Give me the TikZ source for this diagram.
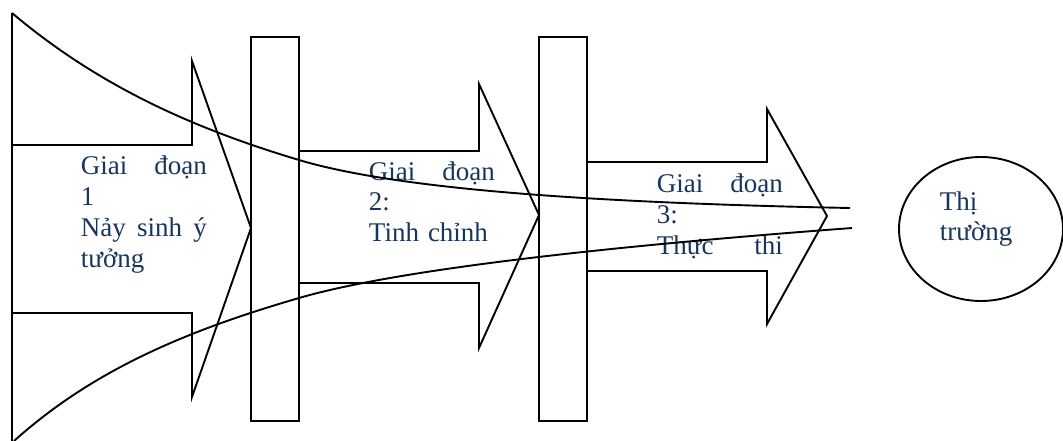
\documentclass[tikz,border=0pt]{standalone}
\usepackage{fontspec}
\setmainfont{Liberation Serif}
\usetikzlibrary{shapes.geometric}
\definecolor{chuxanh}{RGB}{23,54,93}

\begin{document}
\begin{tikzpicture}[x=1pt, y=-1pt, line width=1.9pt,
  chu/.style={text=chuxanh, font=\fontsize{27}{30.7}\selectfont, inner sep=0pt,
    anchor=base west, text width=\rong, align=left}]

  \def\rong{126pt}   % bề rộng khung chữ
  \def\yT{37}        % đỉnh hai thanh chắn
  \def\yB{421}       % đáy hai thanh chắn

  \useasboundingbox (0,0) rectangle (1063,441);

  % Chữ các giai đoạn
  \node[chu] (gd1) at (80,175)
    {\makebox[\rong][s]{Giai\hfill đoạn}\\1\\\makebox[\rong][s]{Nảy\hfill sinh\hfill ý}\\tưởng};
  \node[chu] (gd2) at (368,180)
    {\makebox[\rong][s]{Giai\hfill đoạn}\\2:\\Tinh chỉnh};
  \node[chu] (gd3) at (656,193)
    {\makebox[\rong][s]{Giai\hfill đoạn}\\3:\\\makebox[\rong][s]{Thực\hfill thi}};

  % Phễu
  \draw (12,441) -- (12,13);
  \draw (12,13) .. controls (102,89) and (199,130) .. (299,160)
    .. controls (399,190) and (600,203) .. (850,208);
  \draw (14,441) .. controls (94,369) and (189,330) .. (299,298)
    .. controls (409,266) and (652,243) .. (852,228);

  % Mũi tên 1
  \draw (12,145) -- (192,145) -- (192,61) -- (251,228) -- (192,397)
    -- (192,313) -- (12,313);

  % Mũi tên 2
  \draw (299,151) -- (479,151) -- (479,84) -- (539,215) -- (479,348)
    -- (479,283) -- (299,283);

  % Mũi tên 3
  \draw (587,162) -- (767,162) -- (767,109) -- (827,216) -- (767,324)
    -- (767,271) -- (587,271);

  % Thanh chắn
  \draw (251,\yT) rectangle (299,\yB);
  \draw (539,\yT) rectangle (587,\yB);

  % Thị trường
  \node[draw, ellipse, minimum width=164pt, minimum height=144pt, inner sep=0pt]
    (thitruong) at (981,229) {};
  \node[chu, text width=80pt] (tt) at (939,210) {Thị\\trường};

\end{tikzpicture}
\end{document}
